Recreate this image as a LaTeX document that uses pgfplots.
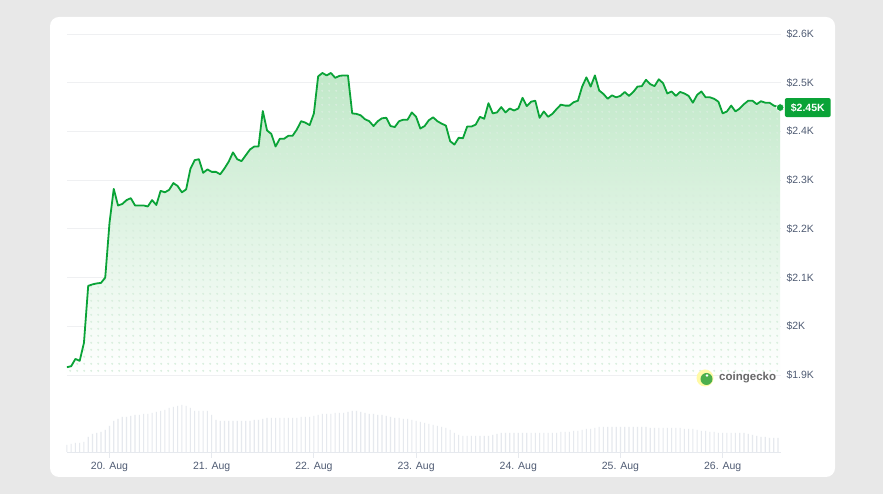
\documentclass[border=0pt]{standalone}
\usepackage{fontspec}
\setmainfont{Liberation Sans}
\usepackage{pgfplots}
\usepackage{pgfplotstable}
\usetikzlibrary{patterns.meta}
\pgfplotsset{compat=1.18}
\definecolor{cgline}{RGB}{10,163,55}
\definecolor{cgfill}{RGB}{192,232,200}
\definecolor{lbl}{RGB}{80,92,116}
\definecolor{bgc}{RGB}{232,232,232}
\definecolor{gridc}{RGB}{239,240,242}
\definecolor{volc}{RGB}{230,233,238}
\tikzdeclarepattern{
  name=cgdots, type=uncolored,
  bounding box={(0pt,0pt) and (6.7pt,6.7pt)},
  tile size={(6.7pt,6.7pt)},
  code={\fill (3.35pt,3.35pt) circle (1.1pt);}
}

\pgfplotstableread{
h p
-10 1916
-9 1918
-8 1933
-7 1929
-6 1966
-5 2083
-4 2086
-3 2088
-2 2089
-1 2100
0 2212
1 2282
2 2248
3 2251
4 2259
5 2263
6 2248
7 2248
8 2248
9 2246
10 2259
11 2249
12 2278
13 2275
14 2280
15 2294
16 2288
17 2275
18 2281
19 2323
20 2341
21 2343
22 2315
23 2322
24 2317
25 2317
26 2312
27 2324
28 2338
29 2357
30 2343
31 2339
32 2351
33 2363
34 2369
35 2369
36 2442
37 2402
38 2395
39 2369
40 2385
41 2385
42 2391
43 2391
44 2404
45 2421
46 2418
47 2413
48 2437
49 2513
50 2520
51 2515
52 2520
53 2510
54 2514
55 2515
56 2515
57 2437
58 2436
59 2433
60 2425
61 2421
62 2411
63 2421
64 2427
65 2428
66 2411
67 2409
68 2421
69 2424
70 2424
71 2439
72 2430
73 2406
74 2411
75 2423
76 2429
77 2421
78 2416
79 2412
80 2380
81 2373
82 2387
83 2386
84 2410
85 2410
86 2414
87 2430
88 2426
89 2458
90 2437
91 2439
92 2450
93 2439
94 2447
95 2443
96 2447
97 2469
98 2452
99 2461
100 2463
101 2428
102 2441
103 2430
104 2436
105 2446
106 2455
107 2453
108 2453
109 2460
110 2463
111 2492
112 2511
113 2492
114 2515
115 2484
116 2477
117 2467
118 2474
119 2470
120 2473
121 2481
122 2473
123 2481
124 2492
125 2493
126 2506
127 2497
128 2493
129 2507
130 2499
131 2478
132 2482
133 2473
134 2481
135 2478
136 2473
137 2459
138 2475
139 2482
140 2470
141 2470
142 2467
143 2461
144 2437
145 2441
146 2453
147 2441
148 2447
149 2456
150 2463
151 2463
152 2456
153 2462
154 2459
155 2459
156 2453
157.5 2449
}\pricetable

\pgfplotstableread{
h v
-10 7
-9 8
-8 9
-7 9
-6 10
-5 15
-4 18
-3 19
-2 20
-1 22
0 26
1 31
2 33
3 35
4 35
5 36
6 37
7 37
8 38
9 38
10 39
11 40
12 41
13 42
14 44
15 45
16 46
17 47
18 46
19 44
20 41
21 41
22 41
23 41
24 37
25 32
26 31
27 31
28 31
29 31
30 31
31 31
32 31
33 31
34 32
35 32
36 33
37 34
38 34
39 34
40 34
41 34
42 34
43 34
44 34
45 35
46 35
47 35
48 36
49 37
50 38
51 38
52 38
53 39
54 39
55 39
56 40
57 41
58 41
59 40
60 39
61 38
62 38
63 37
64 37
65 36
66 35
67 34
68 34
69 33
70 33
71 32
72 31
73 30
74 29
75 28
76 27
77 26
78 25
79 24
80 22
81 19
82 17
83 16
84 16
85 16
86 16
87 16
88 16
89 16
90 17
91 18
92 19
93 19
94 19
95 19
96 19
97 19
98 19
99 19
100 19
101 19
102 19
103 19
104 19
105 19
106 20
107 20
108 20
109 21
110 21
111 22
112 23
113 23
114 24
115 25
116 25
117 25
118 25
119 25
120 25
121 25
122 25
123 25
124 25
125 25
126 25
127 24
128 24
129 24
130 24
131 24
132 24
133 24
134 24
135 23
136 23
137 23
138 22
139 21
140 21
141 20
142 20
143 19
144 19
145 19
146 19
147 19
148 19
149 19
150 18
151 17
152 16
153 15
154 15
155 14
156 14
157 14
}\voltable

\begin{document}
\begin{tikzpicture}[x=1pt,y=1pt]
\fill[bgc] (0,0) rectangle (883,494);
\fill[white, rounded corners=9pt] (50,17) rectangle (835,477);

% volume axis
\begin{axis}[
  at={(67pt,42pt)}, anchor=south west, scale only axis,
  width=714pt, height=47pt,
  xmin=-9.98, xmax=157.7, ymin=0, ymax=47,
  axis y line=none,
  axis x line*=bottom,
  x axis line style={-, draw=volc, line width=0.8pt},
  xtick={0,24,48,72,96,120,144},
  xticklabels={20. Aug,21. Aug,22. Aug,23. Aug,24. Aug,25. Aug,26. Aug},
  tick align=outside, major tick length=6pt,
  xtick style={draw=volc, line width=0.8pt},
  xticklabel style={font=\fontsize{10.5}{12}\selectfont, text=lbl, anchor=base, yshift=-12pt},
  clip=false,
]
\addplot[ybar, bar width=1.1pt, fill=volc, draw=none] table[x=h, y=v] {\voltable};
\end{axis}

% price axis
\begin{axis}[
  at={(67pt,119pt)}, anchor=south west, scale only axis,
  width=714pt, height=341pt,
  xmin=-9.98, xmax=157.7, ymin=1900, ymax=2600,
  axis line style={draw=none},
  xtick=\empty,
  ytick={1900,2000,2100,2200,2300,2400,2500,2600},
  yticklabels={\$1.9K,\$2K,\$2.1K,\$2.2K,\$2.3K,\$2.4K,\$2.5K,\$2.6K},
  yticklabel pos=right,
  ytick style={draw=none},
  ymajorgrids,
  major grid style={draw=gridc, line width=0.9pt},
  yticklabel style={font=\fontsize{10.5}{12}\selectfont, text=lbl, anchor=west, xshift=2pt},
  clip=false,
]
\addplot[draw=none, top color=cgfill, bottom color=white, forget plot]
  table[x=h, y=p] {\pricetable} -- (axis cs:157.5,1900) -- (axis cs:-10,1900) -- cycle;
\addplot[draw=none, pattern=cgdots, pattern color={rgb,255:red,216;green,238;blue,221}, forget plot]
  table[x=h, y=p] {\pricetable} -- (axis cs:157.5,1900) -- (axis cs:-10,1900) -- cycle;
\addplot[cgline, line width=1.8pt, line join=round] table[x=h, y=p] {\pricetable};
\addplot[only marks, mark=*, mark size=3.8pt, mark options={fill=cgline, draw=white, line width=0.6pt}] coordinates {(157.5,2449)};
\node[fill=cgline, text=white, rounded corners=2pt, font=\bfseries\fontsize{10.5}{12}\selectfont, anchor=west, inner xsep=6pt, inner ysep=0pt, minimum height=19pt, xshift=4.5pt] at (axis cs:157.5,2449) {\$2.45K};
\end{axis}

% coingecko logo
\fill[yellow!35!white] (705,116) circle (8.5);
\fill[green!55!black!70!white] (706.5,115) circle (6);
\fill[white] (707,118.5) circle (1.3);
\node[anchor=west, text={rgb,255:red,105;green,105;blue,105}, font=\bfseries\fontsize{11.5}{13}\selectfont, inner sep=0pt] at (719,116) {coingecko};
\end{tikzpicture}
\end{document}
